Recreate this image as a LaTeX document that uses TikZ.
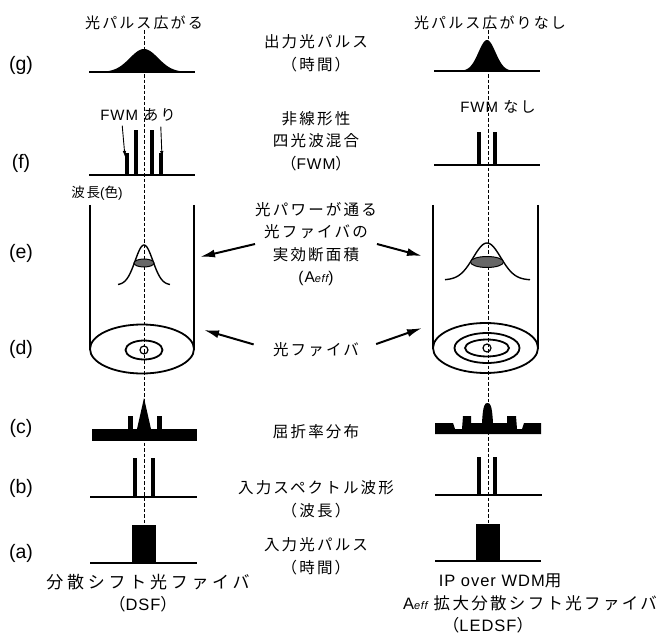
\documentclass[tikz,border=0pt]{standalone}
\usepackage{fontspec}
\setmainfont{Liberation Sans}
\newfontfamily\jp[LetterSpace=14]{Noto Sans CJK JP}
\newfontfamily\jpwide[LetterSpace=22]{Noto Sans CJK JP}
\newfontfamily\lat[LetterSpace=6]{Liberation Sans}
\usetikzlibrary{arrows.meta,calc}

\begin{document}
\begin{tikzpicture}[x=1pt,y=-1pt,
  jptxt/.style={font=\jp\fontsize{15.5}{22.5}\selectfont,align=center,inner sep=0pt},
  lbl/.style={font=\fontsize{19.5}{21}\selectfont,inner sep=0pt},
  axis/.style={line width=1pt,dash pattern=on 3.5pt off 2pt},
  base/.style={line width=2pt},
  wall/.style={line width=1.8pt},
  pulse/.style={fill=black,inner sep=0pt,minimum width=24pt,minimum height=38pt},
  bigarrow/.style={line width=2pt,-{Latex[length=15pt,width=8pt]}},
  smallarrow/.style={line width=0.9pt,-{Latex[length=6pt,width=3.5pt]}}]
\useasboundingbox (0,0) rectangle (661,639);

\foreach \t/\yy in {g/65,f/163,e/253,d/349,c/428,b/488,a/553}
  \node[lbl] (lbl\t) at (21,\yy) {(\t)};

\node[jptxt,font=\jp\fontsize{15}{18}\selectfont] (spreadL) at (144,23) {光パルス広がる};
\node[jptxt,font=\jp\fontsize{15}{18}\selectfont] (spreadR) at (490,23) {光パルス広がりなし};
\node[jptxt] (outTxt) at (316,53) {出力光パルス\\（時間）};
\node[jptxt] (fwmTxt) at (316,141) {非線形性\\四光波混合\\（{\lat FWM}）};
\node[jptxt] (aeffTxt) at (316,244) {光パワーが通る\\光ファイバの\\実効断面積\\{\lat (A{\itshape\fontsize{11}{12}\selectfont eff})}};
\node[jptxt] (fibTxt) at (316,350) {光ファイバ};
\node[jptxt] (idxTxt) at (316,432) {屈折率分布};
\node[jptxt] (specTxt) at (316,499) {入力スペクトル波形\\（波長）};
\node[jptxt] (inTxt) at (316,556) {入力光パルス\\（時間）};
\node[jptxt,font=\jp\fontsize{15}{18}\selectfont] (fwmL) at (138,115) {{\lat FWM} あり};
\node[jptxt,font=\jp\fontsize{15}{18}\selectfont] (fwmR) at (498,107) {{\lat FWM} なし};
\node[jptxt,font=\jp\fontsize{13.5}{18}\selectfont] (waveL) at (97,193) {波長{\lat (}色{\lat )}};
\node[jptxt,font=\jpwide\fontsize{17}{22}\selectfont] (dsfTxt) at (148,582) {分散シフト光ファイバ};
\node[jptxt,font=\jp\fontsize{16.5}{22}\selectfont] (dsfAbbr) at (143,604) {（{\lat DSF}）};
\node[jptxt,font=\jp\fontsize{16.5}{22}\selectfont] (ipTxt) at (500,581) {{\lat IP over WDM}用};
\node[jptxt,font=\jp\fontsize{16.5}{22}\selectfont] (ledsfTxt) at (530,603) {{\lat A{\itshape\fontsize{11}{12}\selectfont eff}} 拡大分散シフト光ファイバ};
\node[jptxt,font=\jp\fontsize{16.5}{22}\selectfont] (ledsfAbbr) at (488,625) {（{\lat LEDSF}）};

\node[pulse] (inL) at (144,544) {};
\node[pulse] (inR) at (488,542.5) {};

\draw[axis] (inL.north |- spreadL.south) -- (inL.north);
\draw[axis] (inR.north |- spreadR.south) -- (inR.north);

\draw[base] (89,72) -- (195,72);
\fill (95,72) -- plot[domain=95:192,samples=80,smooth] (\x,{72-23*exp(-(((\x-144)/20)^2))}) -- (192,72) -- cycle;
\draw[base] (434,71) -- (540,71);
\fill (452,71) -- plot[domain=452:522,samples=80,smooth] (\x,{71-31*exp(-(((\x-487)/12)^2))}) -- (522,71) -- cycle;

\draw[base] (89,175) -- (195,175);
\foreach \bx/\by in {126.5/153,136/130,151.5/130,161/153}
  \fill (\bx-2,175) rectangle (\bx+2,\by);
\draw[base] (434,165) -- (540,165);
\foreach \bx in {479,495}
  \fill (\bx-2,165) rectangle (\bx+2,132);
\coordinate (fL1) at (125,157);
\coordinate (fL2) at (162,157);
\draw[smallarrow] ($(fwmL.south west)+(22,4)$) -- (fL1);
\draw[smallarrow] ($(fwmL.south east)+(-15,5)$) -- (fL2);

\draw[wall] (90,205) -- (90,349);
\draw[wall] (194,205) -- (194,349);
\draw[wall] (142,349) ellipse [x radius=52,y radius=24.5];
\draw[wall] (144,350) ellipse [x radius=18.5,y radius=9.5];
\draw[line width=1.2pt] (144,350) circle [radius=4];
\draw[line width=1.4pt] plot[domain=118:170,samples=60,smooth] (\x,{285-40*exp(-(((\x-144)/12.5)^2))});
\filldraw[fill=black!60,line width=1pt] (144,263) ellipse [x radius=10,y radius=4];

\draw[wall] (433,205) -- (433,348);
\draw[wall] (538,205) -- (538,348);
\draw[wall] (485.5,348) ellipse [x radius=52.5,y radius=25];
\draw[wall] (487,348) ellipse [x radius=32.5,y radius=15];
\draw[wall] (487,348) ellipse [x radius=22,y radius=8.5];
\draw[line width=1.2pt] (487,348) circle [radius=4];
\draw[line width=1.4pt] plot[domain=445:530,samples=60,smooth] (\x,{280-37*exp(-(((\x-487)/19.5)^2))});
\filldraw[fill=black!60,line width=1pt] (487,262) ellipse [x radius=16.5,y radius=5.5];

\coordinate (eL) at (200,257);
\coordinate (eR) at (422,256);
\coordinate (dL) at (204,330);
\coordinate (dR) at (422,328);
\draw[bigarrow] (aeffTxt.west) -- (eL);
\draw[bigarrow] (aeffTxt.east) -- (eR);
\draw[bigarrow,shorten <=20pt] (fibTxt.west) -- (dL);
\draw[bigarrow,shorten <=18pt] (fibTxt.east) -- (dR);

\fill (92,429) rectangle (197,441);
\fill (128,429) rectangle (133,416);
\fill (157,429) rectangle (162,416);
\fill (137,429) -- (144,398) -- (151,429) -- cycle;
\fill (435,434) -- (435,423) -- (453,423) -- (455,429) -- (462,429) -- (463,416) -- (471,416) -- (471,423)
  -- (482,423) .. controls (483,404) and (485,403) .. (487.5,403) .. controls (490,403) and (492,404) .. (493,423)
  -- (507,423) -- (507,416) -- (516,416) -- (517,429) -- (522,429) -- (524,423) -- (541,423) -- (541,434) -- cycle;

\draw[line width=1.6pt] (90,497) -- (197,497);
\fill (133,497) rectangle (136.5,458);
\fill (151,497) rectangle (154.5,458);
\draw[line width=1.6pt] (435,495) -- (542,495);
\fill (477,495) rectangle (481,457);
\fill (493,495) rectangle (497,457);

\draw[base] (90,563) -- (197,563);
\draw[base] (435,561) -- (541,561);
\end{tikzpicture}
\end{document}
